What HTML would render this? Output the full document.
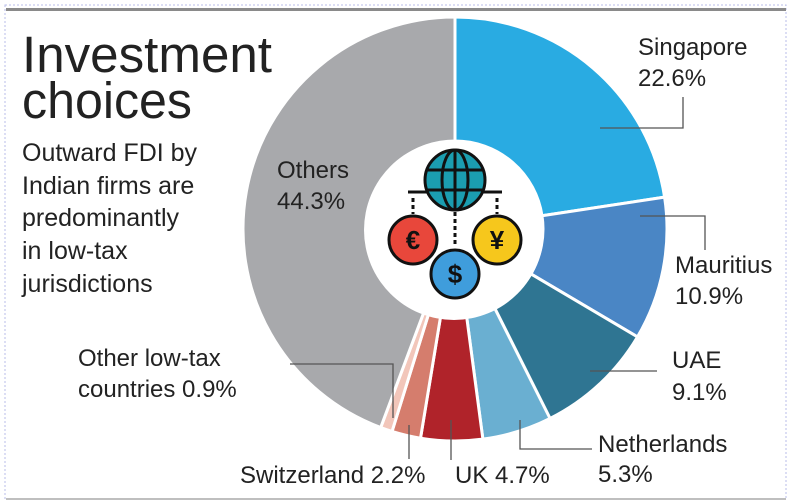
<!DOCTYPE html>
<html><head><meta charset="utf-8"><style>
html,body{margin:0;padding:0;background:#fff;}
svg{display:block;font-family:"Liberation Sans",sans-serif;}
</style></head><body>
<svg id="s" width="791" height="502" viewBox="0 0 791 502" xmlns="http://www.w3.org/2000/svg">
<rect x="5" y="5" width="781" height="494" fill="#fff" stroke="#b8bde8" stroke-width="1" stroke-dasharray="2,2"/>
<rect x="6" y="8" width="780" height="3" fill="#8a8a8a"/>
<line x1="6" y1="499" x2="786" y2="499" stroke="#999" stroke-width="1.2"/>
<text x="22" y="72" font-size="51" fill="#222" textLength="250" lengthAdjust="spacingAndGlyphs">Investment</text>
<text x="22" y="118" font-size="51" fill="#222" textLength="170" lengthAdjust="spacingAndGlyphs">choices</text>
<g font-size="25" fill="#222">
<text x="22" y="161">Outward FDI by</text>
<text x="22" y="194">Indian firms are</text>
<text x="22" y="226">predominantly</text>
<text x="22" y="259">in low-tax</text>
<text x="22" y="292">jurisdictions</text>
</g>
<g id="pie"></g>
<circle cx="454" cy="230" r="90" fill="#fff"/>
<g stroke="#111" stroke-width="3">
<line x1="413" y1="198" x2="413" y2="214" stroke-dasharray="4,3"/>
<line x1="497" y1="198" x2="497" y2="214" stroke-dasharray="4,3"/>
<line x1="455" y1="212" x2="455" y2="246" stroke-dasharray="4,3"/>
<line x1="408" y1="192" x2="502" y2="192"/>
<circle cx="455" cy="180" r="30" fill="#1b9db0"/>
<ellipse cx="455" cy="180" rx="13" ry="30" fill="none"/>
<line x1="455" y1="150" x2="455" y2="210"/>
<line x1="426" y1="170" x2="484" y2="170"/>
<line x1="426" y1="190" x2="484" y2="190"/>
<circle cx="413" cy="240" r="24" fill="#e8473b"/>
<circle cx="497" cy="240" r="24" fill="#f6c71c"/>
<circle cx="455" cy="274" r="24" fill="#3f9ddc"/>
</g>
<g font-weight="bold" font-size="26" fill="#111" text-anchor="middle">
<text x="413" y="249">€</text><text x="497" y="249">¥</text><text x="455" y="283">$</text>
</g>
<g stroke="#555" stroke-width="1.3" fill="none">
<polyline points="683,97 683,128 600,128"/>
<polyline points="705,250 705,216 640,216"/>
<polyline points="657,371 590,371"/>
<polyline points="592,449 520,449 520,420"/>
<line x1="451" y1="420" x2="451" y2="460"/>
<line x1="409" y1="425" x2="409" y2="459"/>
<polyline points="290,364 393,364 393,418"/>
</g>
<g font-size="24" fill="#222">
<text x="638" y="55">Singapore</text><text x="638" y="86">22.6%</text>
<text x="675" y="273">Mauritius</text><text x="675" y="304">10.9%</text>
<text x="672" y="368">UAE</text><text x="672" y="400">9.1%</text>
<text x="598" y="452">Netherlands</text><text x="598" y="482">5.3%</text>
<text x="455" y="483">UK 4.7%</text>
<text x="240" y="483">Switzerland 2.2%</text>
<text x="78" y="366">Other low-tax</text><text x="78" y="397">countries 0.9%</text>
<text x="277" y="178">Others</text><text x="277" y="209">44.3%</text>
</g>
</svg>
<script>
(function(){
var d=[[22.6,"#29abe2"],[10.9,"#4a86c5"],[9.1,"#2f7592"],[5.3,"#6aafd1"],[4.7,"#b0232a"],[2.2,"#d57d6d"],[0.9,"#f2c6ba"],[44.3,"#a8a9ac"]];
var cx=455,cy=229,R=212,r=88,a=0,g=document.getElementById("pie"),h="";
function p(rad,ang){var t=ang/100*2*Math.PI;return [cx+rad*Math.sin(t),cy-rad*Math.cos(t)];}
d.forEach(function(s){var b=a+s[0],L=s[0]>50?1:0;
var o1=p(R,a),o2=p(R,b),i1=p(r,b),i2=p(r,a);
h+='<path d="M'+o1+' A'+R+','+R+' 0 '+L+' 1 '+o2+' L'+i1+' A'+r+','+r+' 0 '+L+' 0 '+i2+'Z" fill="'+s[1]+'" stroke="#fff" stroke-width="3" stroke-linejoin="round"/>';a=b;});
g.innerHTML=h;})();
</script>
</body></html>
